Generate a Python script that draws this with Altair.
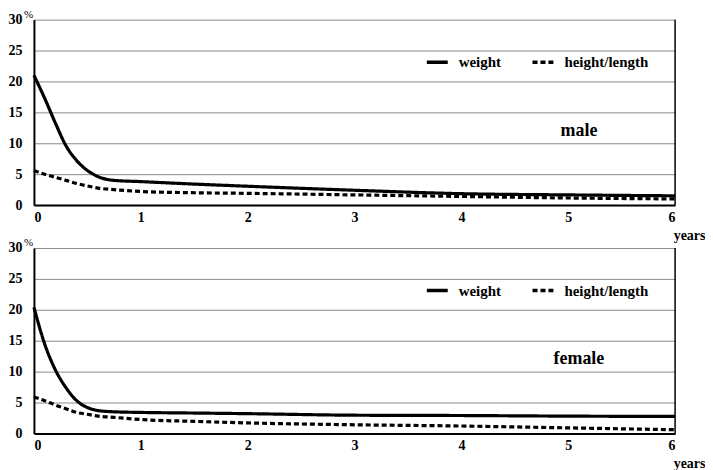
import altair as alt
import pandas as pd

years = [0, 0.1, 0.2, 0.3, 0.4, 0.5, 0.6, 0.75, 1, 1.5, 2, 3, 4, 5, 6]
male_weight = [21.0, 17.3, 13.3, 9.6, 7.2, 5.6, 4.6, 4.0, 3.8, 3.4, 3.05, 2.4, 1.85, 1.65, 1.5]
male_height = [5.6, 5.0, 4.5, 4.0, 3.5, 3.1, 2.75, 2.5, 2.2, 2.0, 1.9, 1.65, 1.4, 1.15, 1.0]
female_weight = [20.4, 14.5, 10.3, 7.4, 5.3, 4.2, 3.7, 3.5, 3.4, 3.3, 3.2, 2.95, 2.9, 2.8, 2.75]
female_height = [5.9, 5.3, 4.6, 4.0, 3.4, 3.1, 2.8, 2.6, 2.25, 1.95, 1.7, 1.4, 1.2, 0.9, 0.6]
series_names = ["weight", "height/length"]
panel_names = ["male", "female"]
label_pos = [5.1, 12.0]
x_ticks = [0, 1, 2, 3, 4, 5, 6]
y_ticks = [0, 5, 10, 15, 20, 25, 30]

FONT = "Liberation Serif, Times New Roman, serif"
W = 643
H = 186


def long_df(w, h):
    rows = []
    for x, v in zip(years, w):
        rows.append({"year": x, "value": v, "series": series_names[0]})
    for x, v in zip(years, h):
        rows.append({"year": x, "value": v, "series": series_names[1]})
    return pd.DataFrame(rows)


def panel(df, name):
    xs = alt.Scale(domain=[0, 6], nice=False, zero=False)
    ys = alt.Scale(domain=[0, 30], nice=False)
    x_axis = alt.Axis(values=x_ticks, title="years", titleX=W + 14, titleY=30,
                      titleAlign="center", titleBaseline="middle",
                      titleFont=FONT, titleFontSize=14, titleFontWeight="bold", titleColor="black",
                      labelFont=FONT, labelFontSize=14, labelFontWeight="bold", labelColor="black",
                      labelPadding=5, ticks=False, grid=False, labelOverlap=False,
                      domainColor="black", domainWidth=2, format="d")
    y_axis = alt.Axis(values=y_ticks, title="%", titleAngle=0, titleX=-6, titleY=-5,
                      titleAlign="center", titleBaseline="middle",
                      titleFont=FONT, titleFontSize=11, titleFontWeight="normal", titleColor="black",
                      labelFont=FONT, labelFontSize=14, labelFontWeight="bold", labelColor="black",
                      labelPadding=12, ticks=False, grid=True, gridColor="#8a8a8a", gridWidth=1,
                      labelOverlap=False, domainColor="black", domainWidth=2)
    legend = alt.Legend(orient="none", legendX=392, legendY=30, direction="horizontal",
                        title=None, symbolType="stroke", symbolStrokeWidth=3.5, symbolSize=440,
                        symbolStrokeColor="black", labelFont=FONT, labelFontSize=15,
                        labelFontWeight="bold", labelColor="black", labelOffset=9,
                        columnPadding=24)
    lines = alt.Chart(df).mark_line(color="black", strokeWidth=3.2, interpolate="monotone").encode(
        x=alt.X("year:Q", scale=xs, axis=x_axis),
        y=alt.Y("value:Q", scale=ys, axis=y_axis),
        strokeDash=alt.StrokeDash("series:N",
                                  scale=alt.Scale(domain=series_names, range=[[1, 0], [5, 3]]),
                                  sort=series_names, legend=legend),
        detail="series:N",
    )
    border = alt.Chart(pd.DataFrame({"x": [6], "y0": [0], "y1": [30]})).mark_rule(
        color="black", strokeWidth=1.5).encode(
        x=alt.X("x:Q", scale=xs, axis=x_axis), y=alt.Y("y0:Q", scale=ys, axis=y_axis), y2="y1:Q")
    lab = alt.Chart(pd.DataFrame({"x": [label_pos[0]], "y": [label_pos[1]], "t": [name]})).mark_text(
        font=FONT, fontSize=18, fontWeight="bold", color="black", align="center", baseline="middle").encode(
        x=alt.X("x:Q", scale=xs, axis=x_axis), y=alt.Y("y:Q", scale=ys, axis=y_axis), text="t:N")
    return alt.layer(lines, border, lab).properties(width=W, height=H)


top = panel(long_df(male_weight, male_height), panel_names[0])
bottom = panel(long_df(female_weight, female_height), panel_names[1])

chart = alt.vconcat(top, bottom, spacing=43, bounds="flush").resolve_scale(
    strokeDash="independent").resolve_legend(strokeDash="independent").properties(
    padding=0, background="white").configure_view(stroke=None)

chart.save("out.html", embed_options={"renderer": "svg", "actions": False})
